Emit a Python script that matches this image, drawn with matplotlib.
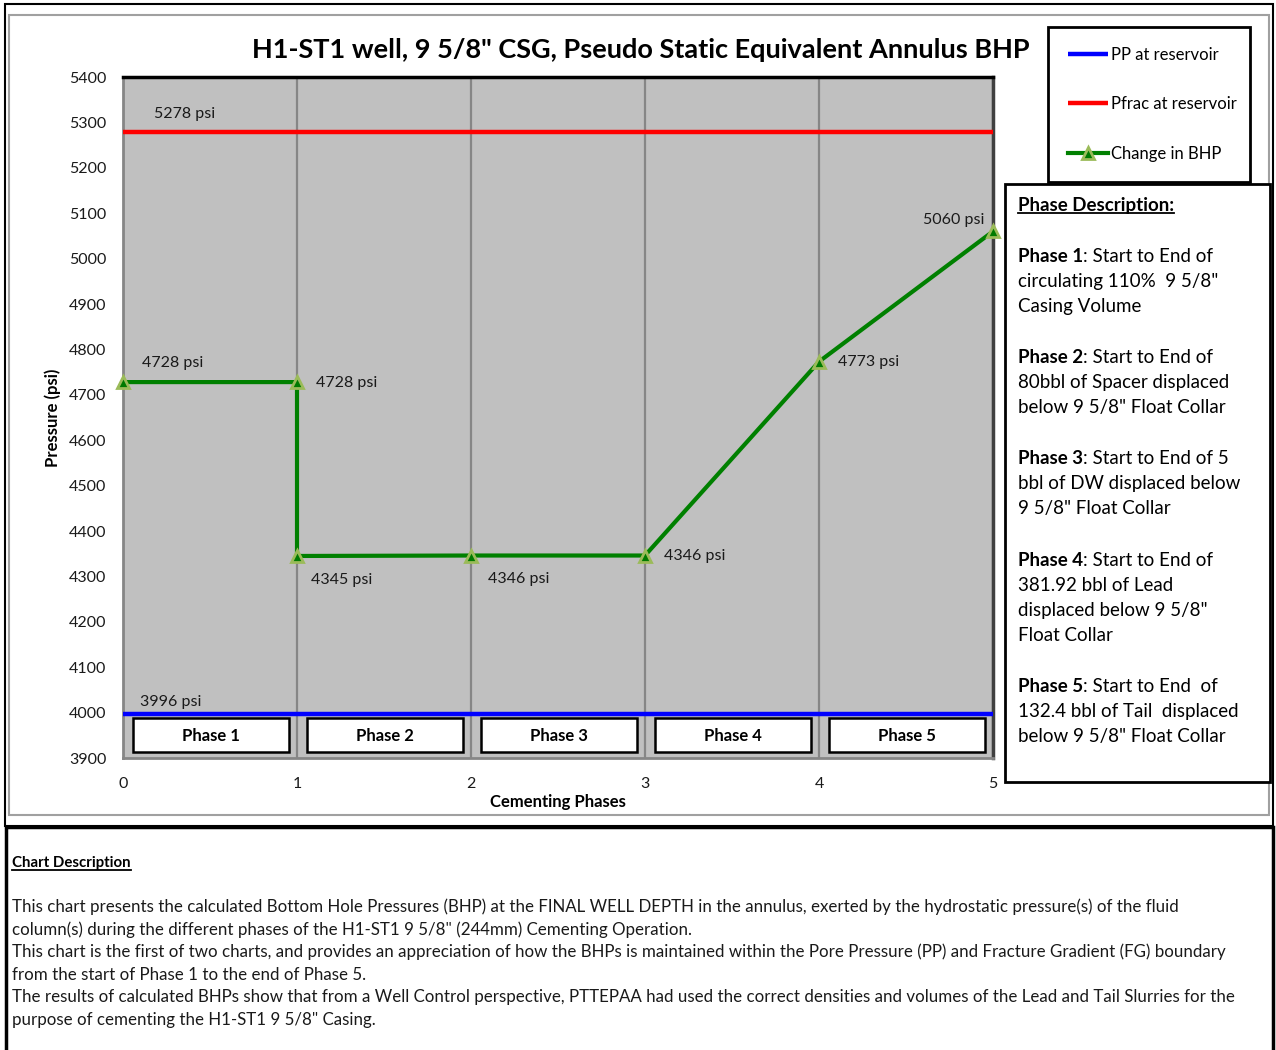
import matplotlib
matplotlib.use("Agg")
import matplotlib.pyplot as plt
from matplotlib.patches import Rectangle
from matplotlib.lines import Line2D

plt.rcParams['font.family'] = ['Lato', 'DejaVu Sans']

# --- data -------------------------------------------------------------
phase_x = [0, 1, 1, 2, 3, 4, 5]
bhp = [4728, 4728, 4345, 4346, 4346, 4773, 5060]
pp_reservoir = 3996
pfrac_reservoir = 5278
phase_names = ["Phase 1", "Phase 2", "Phase 3", "Phase 4", "Phase 5"]
yticks = [3900, 4000, 4100, 4200, 4300, 4400, 4500, 4600, 4700, 4800,
          4900, 5000, 5100, 5200, 5300, 5400]

title = 'H1-ST1 well, 9 5/8" CSG, Pseudo Static Equivalent Annulus BHP'

phase_desc = [
    ("Phase 1", ": Start to End of", ['circulating 110%  9 5/8"', "Casing Volume"]),
    ("Phase 2", ": Start to End of", ["80bbl of Spacer displaced", 'below 9 5/8" Float Collar']),
    ("Phase 3", ": Start to End of 5", ["bbl of DW displaced below", '9 5/8" Float Collar']),
    ("Phase 4", ": Start to End of", ["381.92 bbl of Lead", 'displaced below 9 5/8"', "Float Collar"]),
    ("Phase 5", ": Start to End  of", ["132.4 bbl of Tail  displaced", 'below 9 5/8" Float Collar']),
]

chart_desc = [
    "This chart presents the calculated Bottom Hole Pressures (BHP) at the FINAL WELL DEPTH in the annulus, exerted by the hydrostatic pressure(s) of the fluid",
    'column(s) during the different phases of the H1-ST1 9 5/8" (244mm) Cementing Operation.',
    "This chart is the first of two charts, and provides an appreciation of how the BHPs is maintained within the Pore Pressure (PP) and Fracture Gradient (FG) boundary",
    "from the start of Phase 1 to the end of Phase 5.",
    "The results of calculated BHPs show that from a Well Control perspective, PTTEPAA had used the correct densities and volumes of the Lead and Tail Slurries for the",
    'purpose of cementing the H1-ST1 9 5/8" Casing.',
]

W, H = 1276, 1050


def px(x, y):
    return x / W, 1 - y / H


fig = plt.figure(figsize=(W / 100, H / 100), dpi=100)
fig.patch.set_facecolor("white")

# frames
fig.add_artist(Rectangle(px(5, 826), 1268 / W, 822 / H, transform=fig.transFigure,
                         fill=False, ec="black", lw=1.5))
fig.add_artist(Rectangle(px(9, 815), 1260 / W, 800 / H, transform=fig.transFigure,
                         fill=False, ec="#A0A0A0", lw=1.5))
fig.add_artist(Rectangle(px(6, 1052), 1267 / W, 225 / H, transform=fig.transFigure,
                         fill=False, ec="black", lw=2.5))

ax = fig.add_axes([123 / W, 1 - 758 / H, 870 / W, 681 / H])
ax.set_facecolor("#C0C0C0")

x_ends = [min(phase_x), max(phase_x)]
pp_line, = ax.plot(x_ends, [pp_reservoir, pp_reservoir],
                   color="#0000FF", lw=3.2, solid_capstyle="butt", zorder=3)
pf_line, = ax.plot(x_ends, [pfrac_reservoir, pfrac_reservoir],
                   color="#FF0000", lw=3.2, solid_capstyle="butt", zorder=3)
bhp_line, = ax.plot(phase_x, bhp, color="#008000", lw=3, marker="^", ms=9,
                    mfc="#007A00", mec="#9BBB59", mew=2, zorder=4, clip_on=False)

ax.set_xlim(0, 5)
ax.set_ylim(3900, 5400)
ax.set_yticks(yticks)
ax.set_xticks(range(6))
ax.tick_params(length=0, labelsize=11.5, colors="#1a1a1a")
ax.tick_params(axis="y", pad=12)
ax.tick_params(axis="x", pad=14)
ax.grid(axis="x", color="#868686", lw=1.6)
ax.set_axisbelow(True)
for s in ["left", "bottom"]:
    ax.spines[s].set_color("#868686")
    ax.spines[s].set_linewidth(2)
ax.spines["top"].set_color("black")
ax.spines["top"].set_linewidth(2.5)
ax.spines["right"].set_color("#404040")
ax.spines["right"].set_linewidth(2.5)

# data labels
bhp_offsets = [(14, 14, "left"), (14, -1, "left"), (10, -17, "left"), (12, -17, "left"),
               (14, 0, "left"), (14, 0, "left"), (-6, 8, "right")]
for xv, yv, (dx, dy, ha) in zip(phase_x, bhp, bhp_offsets):
    ax.annotate(f"{yv} psi", (xv, yv), xytext=(dx, dy), textcoords="offset points",
                ha=ha, va="center", fontsize=11.5, color="#1a1a1a")
ax.annotate(f"{pfrac_reservoir} psi", (0, pfrac_reservoir), xytext=(22, 13),
            textcoords="offset points", ha="left", va="center", fontsize=11.5, color="#1a1a1a")
ax.annotate(f"{pp_reservoir} psi", (0, pp_reservoir), xytext=(12, 9),
            textcoords="offset points", ha="left", va="center", fontsize=11.5, color="#1a1a1a")

# phase boxes
for i, name in enumerate(phase_names):
    ax.add_patch(Rectangle((i + 0.055, 3914), 0.9, 75, fc="white", ec="black", lw=1.8, zorder=5))
    ax.text(i + 0.505, 3949, name, ha="center", va="center", fontsize=12,
            fontweight="bold", zorder=6)

fig.text(*px(641, 50), title, ha="center", va="center", fontsize=19.5, fontweight="bold")
fig.text(*px(53, 418), "Pressure (psi)", ha="center", va="center", rotation=90,
         fontsize=12, fontweight="bold")
fig.text(*px(558, 802), "Cementing Phases", ha="center", va="center",
         fontsize=12, fontweight="bold")

# legend
fig.legend([pp_line, pf_line, bhp_line],
           ["PP at reservoir", "Pfrac at reservoir", "Change in BHP"],
           loc="upper left", bbox_to_anchor=(1048 / W, 1 - 28 / H, 202 / W, 0.001),
           mode="expand", fontsize=12,
           frameon=True, fancybox=False, edgecolor="black", framealpha=1,
           handlelength=2.4, handletextpad=0.2, labelspacing=2.0, borderpad=1.2,
           borderaxespad=0)
leg = fig.legends[0]
leg.get_frame().set_linewidth(2)

# phase description box
fig.add_artist(Rectangle(px(1005, 782), 265 / W, 598 / H, transform=fig.transFigure,
                         fc="white", ec="black", lw=2))
renderer = fig.canvas.get_renderer()


def underlined(x, y, s, size):
    t = fig.text(*px(x, y), s, ha="left", va="center", fontsize=size, fontweight="bold")
    bb = t.get_window_extent(renderer)
    yy = 1 - (y + size * 0.62) / H
    fig.add_artist(Line2D([bb.x0 / W, bb.x1 / W], [yy, yy], transform=fig.transFigure,
                          color="black", lw=1.3))


underlined(1018, 205, "Phase Description:", 13.5)
starts = [256, 357, 458, 560, 686]
for y0, (name, rest, lines) in zip(starts, phase_desc):
    t = fig.text(*px(1018, y0), name, ha="left", va="center", fontsize=13.5, fontweight="bold")
    bb = t.get_window_extent(renderer)
    fig.text(bb.x1 / W, 1 - y0 / H, rest, ha="left", va="center", fontsize=13.5)
    for k, ln in enumerate(lines):
        fig.text(*px(1018, y0 + 25.3 * (k + 1)), ln, ha="left", va="center", fontsize=13.5)

# chart description
underlined(12, 863, "Chart Description", 10.8)
for k, ln in enumerate(chart_desc):
    fig.text(*px(12, 907 + 22.6 * k), ln, ha="left", va="center", fontsize=12.2, color="#1a1a1a")

fig.savefig("out.png", dpi=100)
